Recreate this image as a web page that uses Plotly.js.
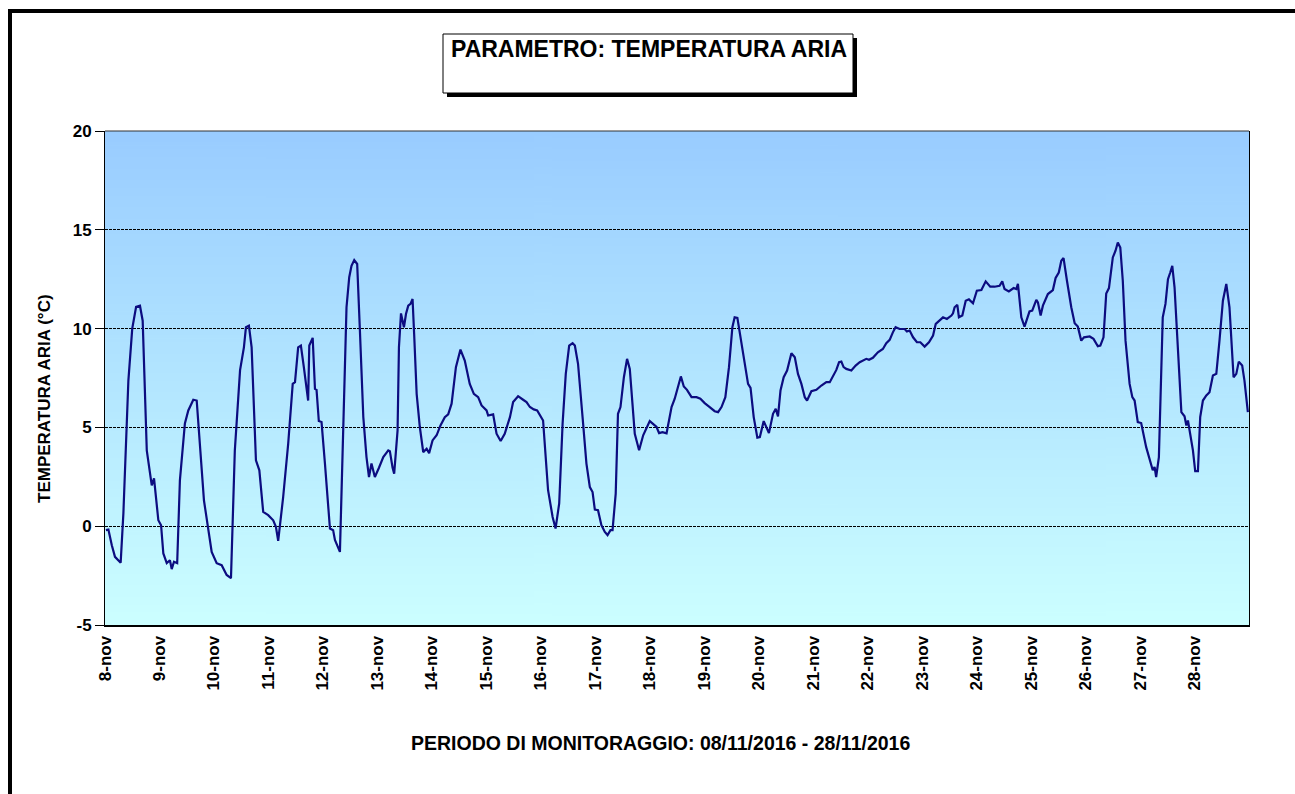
<!DOCTYPE html>
<html>
<head>
<meta charset="utf-8">
<script src="https://cdn.plot.ly/plotly-3.0.1.min.js"></script>
<style>
  html, body { margin: 0; padding: 0; background: #ffffff; }
  #wrap { position: relative; width: 1295px; height: 794px; overflow: hidden; }
  #chart { position: absolute; left: 0; top: 0; width: 1295px; height: 794px; }
  #frame { position: absolute; left: 8px; top: 9px; width: 1300px; height: 800px;
           border-top: 4px solid #000; border-left: 4px solid #000; pointer-events: none; }
</style>
</head>
<body>
<div id="wrap"><div id="chart"></div><div id="frame"></div></div>
<script>
// ---------------- DATA ----------------
// Observation time, in hours after 08/11/2016 00:00
const hoursFromStart = [
  0.4,1.5,3.0,4.4,6.9,8.1,10.3,12.0,13.7,15.4,16.6,18.4,20.6,21.6,23.5,
  24.7,25.7,27.2,28.6,29.4,30.4,31.8,33.0,35.2,36.7,38.9,40.4,43.6,47.0,
  49.2,51.4,53.6,55.5,57.2,59.5,61.2,62.1,63.4,64.6,66.5,68.0,69.7,71.9,
  74.1,75.3,76.3,78.5,80.7,82.7,83.7,85.1,86.3,87.6,89.5,90.0,91.5,92.5,93.2,94.2,95.4,
  96.9,99.1,100.5,101.3,103.5,104.9,106.4,107.6,108.6,109.8,111.1,112.3,113.8,115.2,116.3,117.4,118.9,
  120.7,122.6,124.8,125.5,126.7,127.4,128.9,129.5,130.4,131.7,132.6,133.6,134.6,135.5,136.2,137.3,138.7,140.2,141.7,142.8,
  144.3,146.1,147.8,149.7,151.2,152.7,154.6,156.6,158.5,160.7,162.5,164.4,165.9,
  168.1,168.8,171.0,172.5,174.3,176.1,178.4,179.8,182.0,184.2,185.7,187.2,188.9,190.4,
  193.0,195.2,197.2,198.5,200.1,201.6,203.0,204.5,206.0,207.0,208.4,210.4,212.1,213.6,214.8,215.8,
  217.2,218.7,220.2,221.4,222.7,223.6,225.0,226.0,227.1,228.6,230.0,231.2,232.4,233.4,235.3,237.1,
  240.0,243.0,244.1,245.6,247.4,249.6,251.0,252.5,253.7,255.0,256.4,258.4,260.6,262.3,
  264.2,266.4,268.6,270.1,271.6,273.3,274.9,276.4,277.4,278.6,280.0,281.8,283.3,284.4,285.8,287.4,
  288.5,290.2,291.4,292.5,294.3,295.5,296.5,297.6,299.0,300.5,302.4,303.9,305.3,306.8,308.3,309.3,311.2,
  313.4,315.6,317.8,319.3,320.7,322.2,323.4,324.4,325.4,326.6,328.8,330.7,332.5,334.2,335.4,
  336.6,338.3,340.5,342.7,344.2,345.7,347.1,348.3,350.1,352.3,353.3,354.5,356.0,357.7,359.2,
  361.1,363.0,364.8,366.0,367.4,369.2,370.9,372.9,373.6,374.3,375.5,376.2,377.7,379.2,380.6,382.4,
  384.1,386.1,388.0,390.0,391.9,394.1,395.3,396.3,398.2,400.3,401.5,402.2,403.7,405.1,407.3,
  408.5,410.3,411.0,412.2,413.2,415.4,417.6,418.8,420.2,421.3,422.3,423.8,425.7,427.2,428.6,430.1,431.3,
  433.8,435.5,437.4,438.5,439.9,441.1,442.3,444.0,445.2,446.2,447.3,448.4,449.6,451.4,452.6,453.6,455.0,
  456.5,458.7,460.2,461.6,462.4,463.1,464.3,466.0,467.2,468.3,469.3,470.2,471.2,472.7,474.2,475.6,476.4,477.1,478.1,479.3,
  480.3,481.5,482.5,483.7,485.2,486.6,488.1,489.6,491.0,492.5,494.0,495.4,497.2,498.4,499.5,501.0,502.0,503.5
];
// Air temperature (°C)
const temperatura = [
  -0.2,-0.17,-0.96,-1.55,-1.85,0.65,7.37,10.0,11.1,11.16,10.4,3.84,2.07,2.42,0.3,
  0.05,-1.38,-1.87,-1.72,-2.17,-1.8,-1.87,2.32,5.2,5.86,6.4,6.36,1.3,-1.3,
  -1.87,-1.97,-2.47,-2.63,3.84,7.9,9.05,10.07,10.15,9.05,3.33,2.83,0.72,0.56,
  0.3,-0.03,-0.74,1.48,4.17,7.2,7.29,9.05,9.14,8.05,6.36,9.14,9.53,6.95,6.9,5.32,5.27,
  3.17,-0.12,-0.2,-0.7,-1.3,5.0,11.08,12.6,13.18,13.47,13.27,9.9,5.52,3.5,2.49,3.17,2.49,
  2.96,3.5,3.84,3.8,2.96,2.66,4.85,9.05,10.77,10.07,10.74,11.16,11.25,11.5,9.73,6.7,5.02,3.75,3.92,3.7,
  4.34,4.6,5.1,5.52,5.66,6.2,8.05,8.94,8.38,7.2,6.7,6.53,6.11,
  5.86,5.6,5.66,4.68,4.31,4.68,5.52,6.28,6.58,6.4,6.28,6.03,5.91,5.86,
  5.35,1.82,0.47,-0.12,1.15,5.19,7.71,9.14,9.26,9.14,8.22,5.52,3.17,1.98,1.73,0.84,
  0.81,0.05,-0.29,-0.45,-0.2,-0.2,1.65,5.69,6.03,7.54,8.47,7.96,6.36,4.68,3.84,4.6,
  5.32,5.02,4.71,4.76,4.7,6.03,6.45,7.04,7.58,7.07,6.9,6.53,6.53,6.45,
  6.23,6.03,5.82,5.77,6.03,6.53,8.05,10.07,10.57,10.54,9.56,8.22,7.2,7.0,5.52,4.48,
  4.51,5.32,5.02,4.71,5.69,5.94,5.56,6.87,7.54,7.88,8.75,8.55,7.71,7.2,6.53,6.36,6.83,
  6.9,7.12,7.29,7.29,7.58,7.91,8.3,8.33,8.05,7.96,7.88,8.13,8.3,8.38,8.47,
  8.42,8.52,8.8,8.97,9.26,9.43,9.81,10.07,9.98,9.98,9.85,9.9,9.56,9.31,9.31,
  9.09,9.31,9.65,10.24,10.37,10.57,10.49,10.66,10.77,11.08,11.2,10.57,10.66,11.41,11.48,11.28,
  11.92,11.95,12.39,12.12,12.12,12.17,12.39,12.0,11.88,12.05,12.0,12.26,10.57,10.1,10.87,
  10.91,11.45,11.33,10.66,11.16,11.75,11.95,12.56,12.84,13.43,13.57,12.42,11.08,10.27,10.1,9.39,9.56,
  9.6,9.48,9.11,9.14,9.56,11.78,12.05,13.6,13.94,14.36,14.1,12.42,9.39,7.2,6.53,6.36,5.27,
  5.22,4.0,3.42,2.83,3.0,2.49,3.5,10.57,11.25,12.5,12.84,13.18,12.09,8.55,5.77,5.56,5.1,5.35,4.68,3.84,
  2.79,2.79,5.52,6.36,6.62,6.78,7.63,7.71,9.39,11.41,12.26,11.08,7.54,7.71,8.33,8.13,7.37,5.77
];
const tickDays = [8,9,10,11,12,13,14,15,16,17,18,19,20,21,22,23,24,25,26,27,28];
const tickLabels = ["8-nov","9-nov","10-nov","11-nov","12-nov","13-nov","14-nov","15-nov","16-nov","17-nov",
  "18-nov","19-nov","20-nov","21-nov","22-nov","23-nov","24-nov","25-nov","26-nov","27-nov","28-nov"];
const yTicks = [-5,0,5,10,15,20];
const titleText = "PARAMETRO: TEMPERATURA ARIA";
const yTitleText = "TEMPERATURA ARIA (°C)";
const xTitleText = "PERIODO DI MONITORAGGIO: 08/11/2016 - 28/11/2016";

// ---------------- HELPERS ----------------
const START = Date.UTC(2016, 10, 8, 0, 0, 0);
function pad(n){ return (n < 10 ? "0" : "") + n; }
function fmt(ms){
  const d = new Date(ms);
  return d.getUTCFullYear() + "-" + pad(d.getUTCMonth()+1) + "-" + pad(d.getUTCDate()) + " " +
         pad(d.getUTCHours()) + ":" + pad(d.getUTCMinutes()) + ":" + pad(d.getUTCSeconds());
}
const xDates = hoursFromStart.map(h => fmt(START + Math.round(h * 3600) * 1000));
const tickVals = tickDays.map(d => fmt(Date.UTC(2016, 10, d)));

// plot-area pixel box -> paper coordinates (for decoration only)
const PL = 105, PR = 1249, PT = 131, PB = 625;
const px = p => (p - PL) / (PR - PL);
const py = p => (PB - p) / (PB - PT);

// vertical gradient background image
const cv = document.createElement("canvas");
cv.width = 4; cv.height = 256;
const ctx = cv.getContext("2d");
const grd = ctx.createLinearGradient(0, 0, 0, 256);
grd.addColorStop(0, "#99CCFF");
grd.addColorStop(1, "#CCFFFF");
ctx.fillStyle = grd; ctx.fillRect(0, 0, 4, 256);
const gradURL = cv.toDataURL("image/png");

const FONT = "Liberation Sans, Arial, Helvetica, sans-serif";

const trace = {
  type: "scatter", mode: "lines",
  x: xDates, y: temperatura,
  line: { color: "#0c0c80", width: 2.2 },
  hoverinfo: "skip", showlegend: false
};

const layout = {
  width: 1295, height: 794,
  margin: { l: PL, r: 1295 - PR, t: PT, b: 794 - PB, pad: 0 },
  paper_bgcolor: "#ffffff",
  plot_bgcolor: "rgba(0,0,0,0)",
  font: { family: FONT, color: "#000" },
  showlegend: false,
  xaxis: {
    type: "date",
    range: [fmt(START), fmt(START + 504 * 3600 * 1000)],
    tickmode: "array", tickvals: tickVals, ticktext: tickLabels,
    tickangle: -90,
    tickfont: { family: FONT, size: 17, color: "#000", weight: "bold" },
    ticks: "outside", ticklen: 2, tickcolor: "rgba(0,0,0,0)",
    showgrid: false, zeroline: false,
    showline: true, linecolor: "#000", linewidth: 2
  },
  yaxis: {
    range: [-5, 20],
    tickmode: "array", tickvals: yTicks, ticktext: yTicks.map(String),
    tickfont: { family: FONT, size: 17, color: "#000", weight: "bold" },
    ticks: "outside", ticklen: 9, tickcolor: "#000", tickwidth: 1,
    showgrid: true, gridcolor: "#000", gridwidth: 1, griddash: "3px,1px",
    zeroline: false,
    showline: true, mirror: true, linecolor: "#000", linewidth: 1
  },
  images: [{
    source: gradURL, xref: "paper", yref: "paper",
    x: 0, y: 1, sizex: 1, sizey: 1, sizing: "stretch",
    xanchor: "left", yanchor: "top", layer: "below"
  }],
  shapes: [
    { type: "line", xref: "paper", yref: "paper", x0: 0, x1: 1, y0: 1, y1: 1,
      line: { color: "#333", width: 1 } },
    { type: "rect", xref: "paper", yref: "paper",
      x0: px(447), x1: px(857), y0: py(38), y1: py(97),
      fillcolor: "#000", line: { width: 0 } },
    { type: "rect", xref: "paper", yref: "paper",
      x0: px(443), x1: px(853), y0: py(34), y1: py(93),
      fillcolor: "#fff", line: { color: "#000", width: 1 } }
  ],
  annotations: [
    { text: titleText, xref: "paper", yref: "paper", x: px(449), y: py(49),
      xanchor: "left", yanchor: "middle", showarrow: false,
      font: { family: FONT, size: 23, color: "#000", weight: "bold" } },
    { text: yTitleText, xref: "paper", yref: "paper", x: px(44), y: py(399),
      xanchor: "center", yanchor: "middle", textangle: -90, showarrow: false,
      font: { family: FONT, size: 17, color: "#000", weight: "bold" } },
    { text: xTitleText, xref: "paper", yref: "paper", x: px(660), y: py(743),
      xanchor: "center", yanchor: "middle", showarrow: false,
      font: { family: FONT, size: 19.5, color: "#000", weight: "bold" } }
  ]
};

Plotly.newPlot("chart", [trace], layout, { displayModeBar: false, staticPlot: true });
</script>
</body>
</html>
